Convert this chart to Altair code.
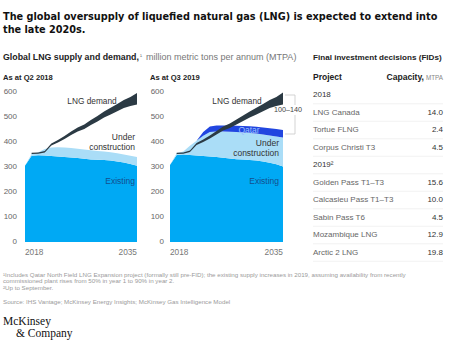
import altair as alt
import pandas as pd

# ---------------- data ----------------
years = list(range(2018, 2036))

# As at Q2 2018 (left panel) - tops of each layer, MTPA
q2_existing = [305, 345, 347, 346, 344, 342, 340, 338, 336, 333, 330, 329, 328, 326, 322, 318, 312, 305]
q2_under_construction = [305, 352, 358, 372, 378, 379, 378, 376, 373, 370, 367, 364, 362, 359, 355, 350, 345, 340]

# As at Q3 2019 (right panel)
q3_existing = [308, 348, 350, 348, 346, 344, 342, 340, 337, 334, 331, 330, 328, 326, 322, 317, 311, 302]
q3_under_construction = [308, 355, 362, 385, 405, 425, 440, 442, 442, 441, 440, 438, 436, 434, 430, 426, 422, 418]
q3_qatar = [308, 355, 362, 385, 405, 440, 462, 466, 466, 466, 465, 464, 463, 461, 458, 455, 452, 448]

# LNG demand band (from 2019)
demand_years = list(range(2019, 2036))
q2_demand_low = [352, 353, 358, 386, 398, 412, 428, 442, 452, 468, 482, 498, 510, 523, 536, 544, 550]
q2_demand_high = [357, 358, 364, 394, 408, 424, 442, 458, 470, 488, 504, 522, 537, 552, 568, 580, 596]
q3_demand_low = [352, 353, 360, 388, 400, 414, 430, 446, 456, 470, 484, 498, 510, 523, 536, 544, 550]
q3_demand_high = [357, 358, 366, 396, 410, 426, 444, 462, 474, 490, 506, 522, 537, 552, 568, 580, 598]

y_ticks = [0, 100, 200, 300, 400, 500, 600]
x_ticks = [2018, 2035]

table_labels = ["2018", "LNG Canada", "Tortue FLNG", "Corpus Christi T3", "2019²",
                "Golden Pass T1–T3", "Calcasieu Pass T1–T3", "Sabin Pass T6",
                "Mozambique LNG", "Arctic 2 LNG"]
table_kind = ["header", "item", "item", "item", "header", "item", "item", "item", "item", "item"]
table_capacity = ["", "14.0", "2.4", "4.5", "", "15.6", "10.0", "4.5", "12.9", "19.8"]

# ---------------- frames ----------------
q2 = pd.DataFrame({"year": years, "existing": q2_existing, "uc": q2_under_construction})
q3 = pd.DataFrame({"year": years, "existing": q3_existing, "uc": q3_under_construction, "qatar": q3_qatar})
d2 = pd.DataFrame({"year": demand_years, "lo": q2_demand_low, "hi": q2_demand_high})
d3 = pd.DataFrame({"year": demand_years, "lo": q3_demand_low, "hi": q3_demand_high})
ticks = pd.DataFrame({"v": y_ticks})
xt = pd.DataFrame({"year": x_ticks, "label": [str(v) for v in x_ticks]})
table = pd.DataFrame({"row": list(range(len(table_labels))), "label": table_labels,
                      "kind": table_kind, "cap": table_capacity})
one = pd.DataFrame({"k": [0]})

# ---------------- styles ----------------
BODY = "Liberation Sans"
TITLE = "Liberation Sans Narrow, DejaVu Sans Condensed, Liberation Sans"
C_EXIST = "#00A9F4"
C_UC = "#AADDF7"
C_QATAR = "#2146E0"
C_DEMAND = "#2B3A44"

XL = alt.Scale(domain=[2018, 2035], range=[25, 137], nice=False, zero=False)
XR = alt.Scale(domain=[2018, 2035], range=[170, 283], nice=False, zero=False)
YS = alt.Scale(domain=[0, 600], range=[242, 92], nice=False, zero=False)
RS = alt.Scale(domain=[0, 9], range=[95, 252.5], nice=False, zero=False)


def X(field, scale):
    return alt.X(field, type="quantitative", scale=scale, axis=None)


def Y(field):
    return alt.Y(field, type="quantitative", scale=YS, axis=None)


def txt(s, x, y, size=8, weight="normal", color="#333", align="left", font=BODY, baseline="alphabetic"):
    return alt.Chart(one).mark_text(text=s, align=align, baseline=baseline, font=font,
                                    fontSize=size, fontWeight=weight, color=color).encode(
        x=alt.value(x), y=alt.value(y))


layers = []

# left panel areas
layers.append(alt.Chart(q2).mark_area(color=C_EXIST, opacity=1).encode(
    x=X("year", XL), y=Y("existing"), y2=alt.Y2(datum=0)))
layers.append(alt.Chart(q2).mark_area(color=C_UC, opacity=1).encode(
    x=X("year", XL), y=Y("uc"), y2="existing"))
layers.append(alt.Chart(d2).mark_area(color=C_DEMAND, opacity=1).encode(
    x=X("year", XL), y=Y("hi"), y2="lo"))

# right panel areas
layers.append(alt.Chart(q3).mark_area(color=C_EXIST, opacity=1).encode(
    x=X("year", XR), y=Y("existing"), y2=alt.Y2(datum=0)))
layers.append(alt.Chart(q3).mark_area(color=C_UC, opacity=1).encode(
    x=X("year", XR), y=Y("uc"), y2="existing"))
layers.append(alt.Chart(q3).mark_area(color=C_QATAR, opacity=1).encode(
    x=X("year", XR), y=Y("qatar"), y2="uc"))
layers.append(alt.Chart(d3).mark_area(color=C_DEMAND, opacity=1).encode(
    x=X("year", XR), y=Y("hi"), y2="lo"))

# y tick labels
for xpos in (17, 164):
    layers.append(alt.Chart(ticks).mark_text(align="right", baseline="middle", font=BODY,
                                             fontSize=8, color="#666").encode(
        x=alt.value(xpos), y=Y("v"), text=alt.Text("v:Q", format="d")))

# x tick labels
for sc in (XL, XR):
    layers.append(alt.Chart(xt).transform_filter("datum.year == 2018").mark_text(
        align="left", baseline="middle", font=BODY, fontSize=8.3, color="#777").encode(
        x=X("year", sc), y=alt.value(253), text="label:N"))
    layers.append(alt.Chart(xt).transform_filter("datum.year == 2035").mark_text(
        align="right", baseline="middle", font=BODY, fontSize=8.3, color="#777").encode(
        x=X("year", sc), y=alt.value(253), text="label:N"))

# panel labels
LS = 8.5
layers += [
    txt("LNG demand", 92, 102, 8.3, color="#333", align="center", baseline="middle"),
    txt("Under", 135, 137, LS, color="#333", align="right", baseline="middle"),
    txt("construction", 135, 147, LS, color="#333", align="right", baseline="middle"),
    txt("Existing", 135, 181, LS, color="#13508f", align="right", baseline="middle"),
    txt("LNG demand", 237, 102, 8.3, color="#333", align="center", baseline="middle"),
    txt("Qatar", 249, 130, LS, color="#9ec0ff", align="center", baseline="middle"),
    txt("Under", 279, 143, LS, color="#333", align="right", baseline="middle"),
    txt("construction", 279, 153, LS, color="#333", align="right", baseline="middle"),
    txt("Existing", 279, 181, LS, color="#13508f", align="right", baseline="middle"),
]

# bracket 100-140
bracket = "#c8c8c8"
layers += [
    alt.Chart(one).mark_rule(color=bracket, strokeWidth=0.8).encode(
        x=alt.value(285), x2=alt.value(295), y=alt.value(95)),
    alt.Chart(one).mark_rule(color=bracket, strokeWidth=0.8).encode(
        x=alt.value(285), x2=alt.value(295), y=alt.value(134)),
    alt.Chart(one).mark_rule(color=bracket, strokeWidth=0.8).encode(
        x=alt.value(295), y=alt.value(95), y2=alt.value(105)),
    alt.Chart(one).mark_rule(color=bracket, strokeWidth=0.8).encode(
        x=alt.value(295), y=alt.value(115), y2=alt.value(134)),
    txt("100–140", 288, 110, 7.2, color="#444", align="center", baseline="middle"),
]

# table
layers.append(alt.Chart(table).transform_calculate(sep="datum.row + 0.5").mark_rule(
    color="#ececec", strokeWidth=0.7).encode(
    x=alt.value(313), x2=alt.value(443),
    y=alt.Y("sep:Q", scale=RS, axis=None)))
layers.append(alt.Chart(table).transform_filter("datum.kind == 'item'").mark_text(
    align="left", baseline="middle", font=BODY, fontSize=8, color="#666").encode(
    x=alt.value(313), y=alt.Y("row:Q", scale=RS, axis=None), text="label:N"))
layers.append(alt.Chart(table).transform_filter("datum.kind == 'header'").mark_text(
    align="left", baseline="middle", font=BODY, fontSize=8, color="#333").encode(
    x=alt.value(313), y=alt.Y("row:Q", scale=RS, axis=None), text="label:N"))
layers.append(alt.Chart(table).mark_text(
    align="right", baseline="middle", font=BODY, fontSize=8, color="#333").encode(
    x=alt.value(443), y=alt.Y("row:Q", scale=RS, axis=None), text="cap:N"))

# headings
layers += [
    txt("The global oversupply of liquefied natural gas (LNG) is expected to extend into",
        3, 20, 10.8, "bold", "#111", font=TITLE),
    txt("the late 2020s.", 3, 33, 10.8, "bold", "#111", font=TITLE),
    txt("Global LNG supply and demand,", 3, 60, 8.8, "bold", "#222"),
    txt("¹", 140, 58, 6, color="#666"),
    txt("million metric tons per annum (MTPA)", 146, 60, 9, color="#777"),
    txt("Final investment decisions (FIDs)", 313, 60, 8.1, "bold", "#222"),
    txt("As at Q2 2018", 3, 80, 7.6, "bold", "#222"),
    txt("As at Q3 2019", 150, 80, 7.6, "bold", "#222"),
    txt("Project", 313, 80, 8.5, "bold", "#222"),
    txt("Capacity,", 424, 80, 8.6, "bold", "#222", align="right"),
    txt("MTPA", 443, 80, 6.3, color="#888", align="right"),
]

# footnotes
fn = "#9a9a9a"
layers += [
    txt("¹Includes Qatar North Field LNG Expansion project (formally still pre-FID); the existing supply increases in 2019, assuming availability from recently",
        3, 277, 6.2, color=fn),
    txt(" commissioned plant rises from 50% in year 1 to 90% in year 2.", 3, 283, 6.2, color=fn),
    txt("²Up to September.", 3, 289.5, 6.2, color=fn),
    txt(" Source: IHS Vantage; McKinsey Energy Insights; McKinsey Gas Intelligence Model", 3, 304, 6.2, color=fn),
    txt("McKinsey", 3, 325, 11.5, color="#111", font="Liberation Serif, DejaVu Serif"),
    txt("& Company", 16, 337, 11.5, color="#111", font="Liberation Serif, DejaVu Serif"),
]

chart = alt.layer(*layers).resolve_scale(x="independent", y="independent").properties(
    width=450, height=352, autosize=alt.AutoSizeParams(type="none"), padding=0,
    background="white"
).configure_view(stroke=None)

chart.save("out.html", embed_options={"renderer": "svg", "actions": False})
